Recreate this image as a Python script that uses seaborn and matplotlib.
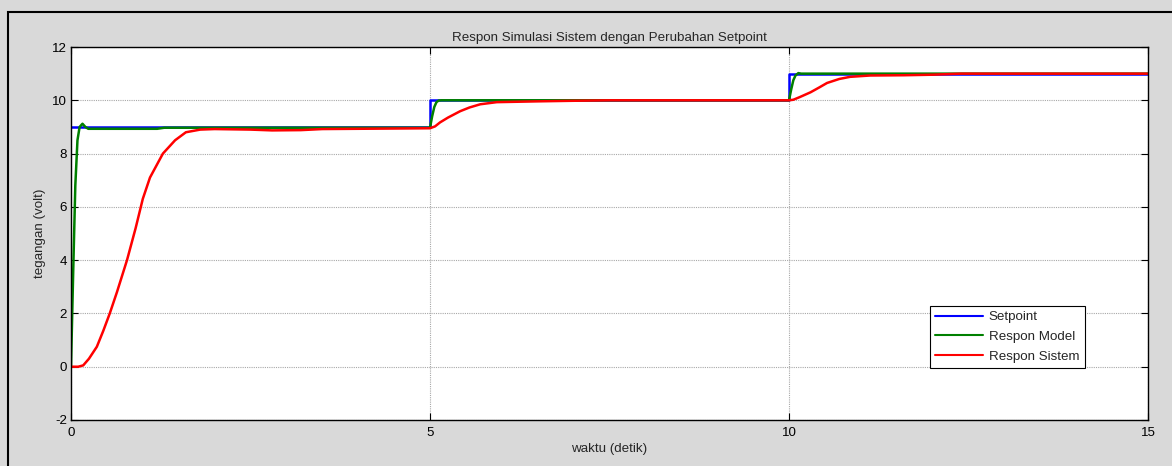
import numpy as np
import pandas as pd
import matplotlib
matplotlib.use("Agg")
import matplotlib.pyplot as plt
from matplotlib.patches import Rectangle
import seaborn as sns

# Setpoint steps
t_setpoint = [0.0, 5.0, 5.0, 10.0, 10.0, 15.0]
v_setpoint = [9.0, 9.0, 10.0, 10.0, 11.0, 11.0]

# Model response
t_model = [0.0, 0.03, 0.06, 0.09, 0.12, 0.16, 0.20, 0.24, 1.2, 1.3, 5.0,
           5.03, 5.06, 5.09, 5.12, 5.16, 10.0, 10.03, 10.06, 10.09, 10.13, 10.17, 15.0]
v_model = [0.0, 3.5, 6.8, 8.5, 9.0, 9.12, 9.0, 8.93, 8.93, 8.97, 8.97,
           9.4, 9.75, 9.93, 9.99, 10.0, 10.0, 10.4, 10.75, 10.93, 11.02, 11.0, 11.0]

# System response
t_system = [0.0, 0.1, 0.17, 0.25, 0.36, 0.45, 0.54, 0.64, 0.78, 0.9, 1.0, 1.1, 1.28,
            1.45, 1.6, 1.8, 2.0, 2.5, 2.8, 3.2, 3.5, 4.0, 5.0,
            5.07, 5.14, 5.25, 5.42, 5.55, 5.7, 5.93, 6.5, 6.95, 7.5, 10.0,
            10.06, 10.15, 10.3, 10.42, 10.53, 10.7, 10.85, 11.13, 11.6, 12.0, 12.4, 15.0]
v_system = [0.0, 0.0, 0.05, 0.3, 0.75, 1.35, 2.0, 2.8, 4.0, 5.2, 6.3, 7.1, 8.0,
            8.5, 8.8, 8.9, 8.92, 8.9, 8.87, 8.88, 8.92, 8.93, 8.95,
            9.02, 9.17, 9.35, 9.59, 9.73, 9.85, 9.93, 9.96, 9.98, 10.0, 10.0,
            10.02, 10.12, 10.3, 10.48, 10.65, 10.8, 10.88, 10.93, 10.94, 10.96, 11.0, 11.0]

series = [
    ("Setpoint", t_setpoint, v_setpoint, "#0000ff"),
    ("Respon Model", t_model, v_model, "#008000"),
    ("Respon Sistem", t_system, v_system, "#ff0000"),
]

sns.set_theme(style="white")
plt.rcParams["font.family"] = ["Liberation Sans", "DejaVu Sans"]

FS = 9.6

fig = plt.figure(figsize=(11.72, 4.66), dpi=100, facecolor="#d9d9d9")
ax = fig.add_axes([71 / 1172, 1 - 420 / 466, (1148 - 71) / 1172, (420 - 47) / 466])
ax.set_facecolor("white")

# Outer frame around the figure area
fig.patches.append(Rectangle((8 / 1172, -0.1), 1.2, 1 - 11.5 / 466 + 0.1,
                             transform=fig.transFigure, fill=False,
                             edgecolor="black", linewidth=1.5, zorder=0))

for name, t, v, c in series:
    df = pd.DataFrame({"t": t, "v": v})
    sns.lineplot(data=df, x="t", y="v", ax=ax, color=c, linewidth=1.8,
                 label=name, sort=False, estimator=None)

ax.set_xlim(0, 15)
ax.set_ylim(-2, 12)
ax.set_xticks([0, 5, 10, 15])
ax.set_yticks([-2, 0, 2, 4, 6, 8, 10, 12])
ax.set_xticklabels(["0", "5", "10", "15"])
ax.set_yticklabels(["-2", "0", "2", "4", "6", "8", "10", "12"])
ax.grid(True, color="#a8a8a8", linestyle=(0, (1, 1)), linewidth=0.8)
ax.tick_params(direction="in", length=5, width=0.8, labelsize=FS,
               top=True, right=True, bottom=True, left=True,
               colors="black")
ax.tick_params(axis="x", pad=5)
ax.tick_params(axis="y", pad=3)
for s in ax.spines.values():
    s.set_color("black")
    s.set_linewidth(1.0)

ax.set_title("Respon Simulasi Sistem dengan Perubahan Setpoint", fontsize=FS, pad=4)
ax.set_xlabel("waktu (detik)", fontsize=FS, labelpad=3)
ax.set_ylabel("tegangan (volt)", fontsize=FS, labelpad=4)

leg = ax.legend(loc="lower left", bbox_to_anchor=((930 - 71) / 1077, (420 - 368) / 373),
                fontsize=FS, frameon=True, fancybox=False, edgecolor="black",
                framealpha=1, borderpad=0.4, handlelength=3.6, labelspacing=0.55,
                handletextpad=0.4, borderaxespad=0)
leg.get_frame().set_linewidth(0.8)
for line in leg.get_lines():
    line.set_linewidth(1.5)

fig.savefig("out.png", dpi=100, facecolor=fig.get_facecolor())
